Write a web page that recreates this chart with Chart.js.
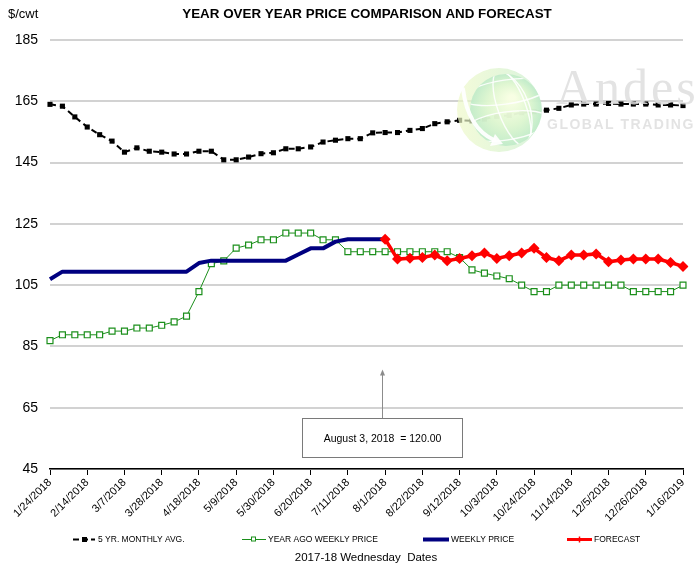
<!DOCTYPE html>
<html>
<head>
<meta charset="utf-8">
<script src="https://cdn.jsdelivr.net/npm/chart.js@4.4.1/dist/chart.umd.min.js"></script>
<style>
  html, body { margin: 0; padding: 0; background: #fff; }
  canvas { display: block; }
</style>
</head>
<body>
<canvas id="chart" width="697" height="568"></canvas>
<script>
// Wednesday dates, 2017-18 season
const weekLabels = [
  '1/24/2018','1/31/2018','2/7/2018','2/14/2018','2/21/2018','2/28/2018','3/7/2018','3/14/2018',
  '3/21/2018','3/28/2018','4/4/2018','4/11/2018','4/18/2018','4/25/2018','5/2/2018','5/9/2018',
  '5/16/2018','5/23/2018','5/30/2018','6/6/2018','6/13/2018','6/20/2018','6/27/2018','7/4/2018',
  '7/11/2018','7/18/2018','7/25/2018','8/1/2018','8/8/2018','8/15/2018','8/22/2018','8/29/2018',
  '9/5/2018','9/12/2018','9/19/2018','9/26/2018','10/3/2018','10/10/2018','10/17/2018','10/24/2018',
  '10/31/2018','11/7/2018','11/14/2018','11/21/2018','11/28/2018','12/5/2018','12/12/2018','12/19/2018',
  '12/26/2018','1/2/2019','1/9/2019','1/16/2019'
];

// $/cwt
const fiveYearAvg = [
  164.0, 163.4, 159.9, 156.6, 154.1, 152.0, 148.4, 149.8, 148.7, 148.4, 147.8, 147.8, 148.7,
  148.7, 145.9, 145.9, 146.8, 147.9, 148.2, 149.5, 149.5, 150.1, 151.7, 152.3, 152.8, 152.8,
  154.7, 154.8, 154.8, 155.5, 156.1, 157.7, 158.3, 158.8, 158.6, 159.2, 160.1, 160.4, 161.3,
  161.6, 162.1, 162.7, 163.8, 164.1, 164.1, 164.3, 164.1, 164.1, 164.1, 163.8, 163.8, 163.6
];
const yearAgoPrice = [
  86.9, 88.8, 88.8, 88.8, 88.8, 90.0, 90.0, 91.0, 91.0, 91.9, 93.0, 94.9, 102.9,
  112.0, 112.9, 117.1, 118.1, 119.8, 119.8, 122.0, 122.0, 122.0, 119.8, 119.8, 115.9, 115.9,
  115.9, 115.9, 115.9, 115.9, 115.9, 115.9, 115.9, 114.0, 110.0, 108.9, 108.0, 107.1, 105.0,
  102.9, 102.9, 105.0, 105.0, 105.0, 105.0, 105.0, 105.0, 102.9, 102.9, 102.9, 102.9, 105.0
];
const weeklyPrice = [
  106.9, 109.4, 109.4, 109.4, 109.4, 109.4, 109.4, 109.4, 109.4, 109.4, 109.4, 109.4, 112.2,
  113.0, 113.0, 113.0, 113.0, 113.0, 113.0, 113.0, 115.0, 117.0, 117.0, 119.2, 120.0, 120.0,
  120.0, 120.0, null, null, null, null, null, null, null, null, null, null, null,
  null, null, null, null, null, null, null, null, null, null, null, null, null
];
const forecast = [
  null, null, null, null, null, null, null, null, null, null, null, null, null,
  null, null, null, null, null, null, null, null, null, null, null, null, null,
  null, 120.0, 113.5, 113.8, 114.0, 114.8, 113.0, 113.7, 114.6, 115.5, 113.7, 114.6, 115.5,
  117.0, 114.0, 113.0, 114.8, 114.8, 115.2, 112.6, 113.2, 113.5, 113.5, 113.5, 112.4, 111.1
];

const seriesNames = ['5 YR. MONTHLY AVG.', 'YEAR AGO WEEKLY PRICE', 'WEEKLY PRICE', 'FORECAST'];
const yRange = { min: 45, max: 185, step: 20 };
const labelEvery = 3;
const noteText = 'August 3, 2018  = 120.00';
const noteIndex = 26.75;

const COLORS = {
  avg: '#000000',
  yearAgo: '#1b8f1b',
  weekly: '#000080',
  forecast: '#ff0000',
  grid: '#d2d2d2'
};

Chart.defaults.font.family = '"Liberation Sans", Arial, sans-serif';
Chart.defaults.color = '#000';

// Watermark: globe logo and company name, painted over the lines
const watermark = {
  id: 'watermark',
  afterDatasetsDraw(chart) {
    const ctx = chart.ctx;
    ctx.save();
    // outer light crescent
    ctx.globalAlpha = 0.7;
    let g = ctx.createLinearGradient(457, 0, 540, 0);
    g.addColorStop(0, 'rgb(238,248,200)');
    g.addColorStop(1, 'rgb(200,238,205)');
    ctx.fillStyle = g;
    ctx.beginPath(); ctx.arc(499, 110, 42, 0, Math.PI * 2); ctx.fill();
    // main sphere
    ctx.globalAlpha = 0.9;
    g = ctx.createRadialGradient(512, 98, 3, 506, 110, 36);
    g.addColorStop(0, 'rgb(250,255,228)');
    g.addColorStop(0.55, 'rgb(222,246,208)');
    g.addColorStop(1, 'rgb(190,234,200)');
    ctx.fillStyle = g;
    ctx.beginPath(); ctx.arc(506, 110, 36, 0, Math.PI * 2); ctx.fill();
    ctx.save();
    ctx.clip();
    ctx.globalAlpha = 1;
    ctx.strokeStyle = 'rgba(255,255,255,0.9)';
    ctx.lineWidth = 1.4;
    ctx.beginPath(); ctx.ellipse(512, 108, 14, 40, -0.35, 0, Math.PI * 2); ctx.stroke();
    ctx.beginPath(); ctx.ellipse(500, 112, 30, 44, -0.35, 0, Math.PI * 2); ctx.stroke();
    ctx.beginPath(); ctx.ellipse(506, 92, 44, 12, -0.15, 0, Math.PI * 2); ctx.stroke();
    ctx.beginPath(); ctx.ellipse(506, 126, 44, 14, -0.15, 0, Math.PI * 2); ctx.stroke();
    ctx.restore();
    // curved arrow
    ctx.globalAlpha = 0.95;
    ctx.strokeStyle = '#ffffff';
    ctx.lineWidth = 4;
    ctx.lineCap = 'round';
    ctx.beginPath();
    ctx.moveTo(463, 89);
    ctx.quadraticCurveTo(468, 128, 494, 140);
    ctx.stroke();
    ctx.fillStyle = '#ffffff';
    ctx.beginPath();
    ctx.moveTo(503, 144); ctx.lineTo(490, 146); ctx.lineTo(495, 134);
    ctx.closePath(); ctx.fill();
    // company name
    ctx.globalAlpha = 0.85;
    ctx.fillStyle = 'rgb(222,222,222)';
    ctx.textBaseline = 'alphabetic';
    ctx.textAlign = 'left';
    ctx.font = '50px "Liberation Serif", serif';
    ctx.letterSpacing = '3px';
    ctx.fillText('Andes', 556, 104);
    ctx.font = 'bold 14px "Liberation Sans", sans-serif';
    ctx.letterSpacing = '1.5px';
    ctx.fillText('GLOBAL TRADING', 547, 129);
    ctx.restore();
  }
};

// Callout box with arrow, titles, legend and axis caption
const decorations = {
  id: 'decorations',
  afterDraw(chart) {
    const ctx = chart.ctx;
    const xs = chart.scales.x, ys = chart.scales.y;
    ctx.save();

    // callout
    const ax = Math.round(xs.getPixelForValue(noteIndex)) + 0.5;
    const boxTop = Math.round(ys.getPixelForValue(61.5)) + 0.5;
    const boxBottom = Math.round(ys.getPixelForValue(48.8)) + 0.5;
    const tipY = ys.getPixelForValue(77.5);
    ctx.strokeStyle = '#8c8c8c';
    ctx.lineWidth = 1;
    ctx.beginPath(); ctx.moveTo(ax, boxTop); ctx.lineTo(ax, tipY + 4); ctx.stroke();
    ctx.fillStyle = '#8c8c8c';
    ctx.beginPath(); ctx.moveTo(ax, tipY); ctx.lineTo(ax - 2.5, tipY + 6); ctx.lineTo(ax + 2.5, tipY + 6); ctx.closePath(); ctx.fill();
    ctx.fillStyle = '#fff';
    ctx.fillRect(ax - 80, boxTop, 160, boxBottom - boxTop);
    ctx.strokeStyle = '#7a7a7a';
    ctx.strokeRect(ax - 80, boxTop, 160, boxBottom - boxTop);
    ctx.fillStyle = '#000';
    ctx.font = '10.5px "Liberation Sans", sans-serif';
    ctx.textAlign = 'center';
    ctx.textBaseline = 'middle';
    ctx.fillText(noteText, ax, (boxTop + boxBottom) / 2 + 1);

    // titles
    ctx.font = '13px "Liberation Sans", sans-serif';
    ctx.textAlign = 'left';
    ctx.fillText('$/cwt', 8, 14);
    ctx.font = 'bold 13.4px "Liberation Sans", sans-serif';
    ctx.textAlign = 'center';
    ctx.fillText('YEAR OVER YEAR PRICE COMPARISON AND FORECAST', 367, 14);

    // legend
    const ly = 539.5;
    ctx.font = '8.5px "Liberation Sans", sans-serif';
    ctx.textAlign = 'left';
    // five year average
    ctx.strokeStyle = COLORS.avg; ctx.lineWidth = 2; ctx.setLineDash([6, 3]);
    ctx.beginPath(); ctx.moveTo(73, ly); ctx.lineTo(95, ly); ctx.stroke();
    ctx.setLineDash([]);
    ctx.fillStyle = COLORS.avg; ctx.fillRect(82, ly - 2.5, 5, 5);
    ctx.fillText(seriesNames[0], 98, ly);
    // year ago
    ctx.strokeStyle = COLORS.yearAgo; ctx.lineWidth = 1;
    ctx.beginPath(); ctx.moveTo(242, ly); ctx.lineTo(266, ly); ctx.stroke();
    ctx.fillStyle = '#fff'; ctx.fillRect(251.5, ly - 2.5, 4, 4);
    ctx.strokeRect(251.5, ly - 2.5, 4, 4);
    ctx.fillStyle = '#000'; ctx.fillText(seriesNames[1], 268, ly);
    // weekly
    ctx.strokeStyle = COLORS.weekly; ctx.lineWidth = 4;
    ctx.beginPath(); ctx.moveTo(423, ly); ctx.lineTo(449, ly); ctx.stroke();
    ctx.fillText(seriesNames[2], 451, ly);
    // forecast
    ctx.strokeStyle = COLORS.forecast; ctx.lineWidth = 3;
    ctx.beginPath(); ctx.moveTo(567, ly); ctx.lineTo(592, ly); ctx.stroke();
    ctx.lineWidth = 1.5;
    ctx.beginPath(); ctx.moveTo(579.5, ly - 3); ctx.lineTo(579.5, ly + 3); ctx.stroke();
    ctx.fillText(seriesNames[3], 594, ly);

    // axis caption
    ctx.font = '11.5px "Liberation Sans", sans-serif';
    ctx.textAlign = 'center';
    ctx.fillText('2017-18 Wednesday  Dates', 366, 558);
    ctx.restore();
  }
};

new Chart(document.getElementById('chart'), {
  type: 'line',
  data: {
    labels: weekLabels,
    datasets: [
      {
        label: seriesNames[3], data: forecast, order: 0,
        borderColor: COLORS.forecast, backgroundColor: COLORS.forecast,
        borderWidth: 3.5, pointStyle: 'rectRot', pointRadius: 5.5,
        pointBorderWidth: 0, spanGaps: false
      },
      {
        label: seriesNames[2], data: weeklyPrice, order: 1,
        borderColor: COLORS.weekly, borderWidth: 4, pointRadius: 0,
        borderJoinStyle: 'round'
      },
      {
        label: seriesNames[1], data: yearAgoPrice, order: 2,
        borderColor: COLORS.yearAgo, backgroundColor: '#ffffff',
        borderWidth: 1, pointStyle: 'rect', pointRadius: 4.2,
        pointBorderWidth: 1.2, pointBorderColor: COLORS.yearAgo
      },
      {
        label: seriesNames[0], data: fiveYearAvg, order: 3,
        borderColor: COLORS.avg, backgroundColor: COLORS.avg,
        borderWidth: 2, borderDash: [6, 4], pointStyle: 'rect',
        pointRadius: 3.6, pointBorderWidth: 0
      }
    ]
  },
  options: {
    responsive: false,
    animation: false,
    devicePixelRatio: 1,
    layout: { padding: { top: 40, right: 14, left: 0, bottom: 0 } },
    plugins: { legend: { display: false }, tooltip: { enabled: false }, title: { display: false } },
    elements: { line: { tension: 0 } },
    scales: {
      x: {
        offset: false,
        afterFit(s) { s.height = 99; },
        grid: {
          drawOnChartArea: false, drawTicks: true, tickLength: 6, lineWidth: 1,
          tickColor: (c) => (c.index % labelEvery === 0 ? '#000' : 'rgba(0,0,0,0)')
        },
        border: { color: '#000', width: 1.5 },
        ticks: {
          autoSkip: false, maxRotation: 45, minRotation: 45, padding: 1,
          font: { size: 11 },
          callback(value, index) {
            return index % labelEvery === 0 ? this.getLabelForValue(value) : '';
          }
        }
      },
      y: {
        min: yRange.min, max: yRange.max,
        afterFit(s) { s.width = 50; },
        grid: { color: COLORS.grid, lineWidth: 2, drawTicks: false },
        border: { display: false },
        ticks: { stepSize: yRange.step, padding: 12, font: { size: 14 } }
      }
    }
  },
  plugins: [watermark, decorations]
});
</script>
</body>
</html>
